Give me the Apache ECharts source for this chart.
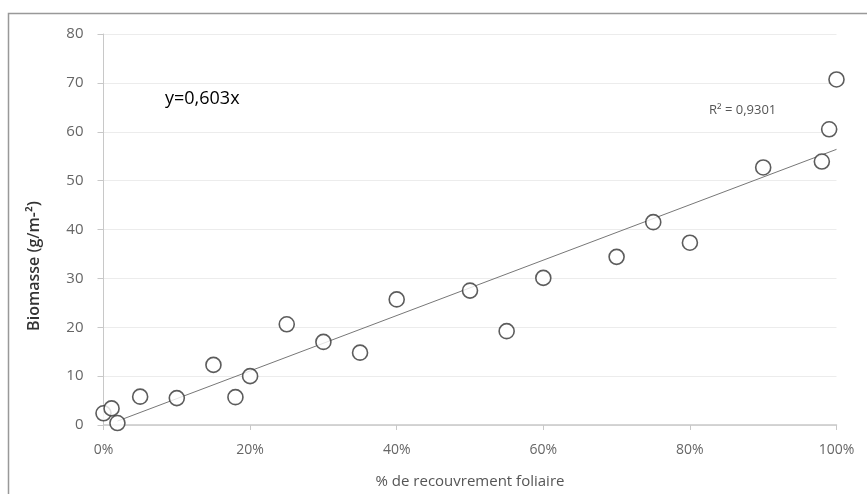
<!DOCTYPE html>
<html><head><meta charset="utf-8">
<script src="https://cdn.jsdelivr.net/npm/echarts@6/dist/echarts.min.js"></script>
<style>html,body{margin:0;padding:0;background:#fff}#c{width:867px;height:494px}</style>
</head><body><div id="c"></div>
<script>
const coverage = [0, 1.1, 1.9, 5, 10, 15, 18, 20, 25, 30, 35, 40, 50, 55, 60, 70, 75, 80, 90, 98, 99, 100];
const biomass  = [2.4, 3.4, 0.4, 5.8, 5.5, 12.3, 5.7, 10.0, 20.6, 17.0, 14.8, 25.7, 27.5, 19.2, 30.1, 34.4, 41.5, 37.3, 52.7, 53.9, 60.5, 70.7];
const trendX = [1.9, 100];
const trendY = [0.8, 56.4];
const xTicks = [0, 20, 40, 60, 80, 100];
const yTicks = [0, 10, 20, 30, 40, 50, 60, 70, 80];

const font = 'Open Sans';
const chart = echarts.init(document.getElementById('c'));
chart.setOption({
  animation: false,
  grid: {left: 103.5, right: 30.5, top: 34, bottom: 67},
  xAxis: {
    type: 'value', min: 0, max: 100, interval: 20,
    axisLine: {show: true, lineStyle: {color: '#c8c8c8', width: 1.5}},
    axisTick: {show: true, length: 5, lineStyle: {color: '#c8c8c8'}},
    splitLine: {show: false},
    axisLabel: {color: '#666', fontFamily: font, fontSize: 14, margin: 18, formatter: v => v + '%'},
    name: '% de recouvrement foliaire', nameLocation: 'middle', nameGap: 49,
    nameTextStyle: {color: '#555', fontFamily: font, fontSize: 15}
  },
  yAxis: {
    type: 'value', min: 0, max: 80, interval: 10,
    axisLine: {show: true, lineStyle: {color: '#c8c8c8', width: 1}},
    axisTick: {show: true, length: 6, lineStyle: {color: '#c8c8c8'}},
    splitLine: {show: true, lineStyle: {color: '#ececec', width: 1}},
    axisLabel: {color: '#666', fontFamily: font, fontSize: 15, margin: 20}
  },
  graphic: [
    {type: 'rect', shape: {x: 8.5, y: 13.5, width: 900, height: 500}, style: {fill: 'none', stroke: '#999', lineWidth: 1.5}, z: -1},
    {type: 'text', left: 165, top: 90, style: {text: 'y=0,603x', fill: '#000', font: '18px "Open Sans"'}},
    {type: 'text', left: 709, top: 104, style: {text: 'R² = 0,9301', fill: '#555', font: '13px "Open Sans"'}},
    {type: 'text', x: 34, y: 266, rotation: Math.PI / 2, style: {text: 'Biomasse (g/m-²)', fill: '#333', font: '600 16px "Open Sans"', align: 'center', verticalAlign: 'middle'}}
  ],
  series: [
    {
      type: 'line', data: trendX.map((x, i) => [x, trendY[i]]),
      symbol: 'none', lineStyle: {color: '#777', width: 1}, z: 2
    },
    {
      type: 'scatter', data: coverage.map((x, i) => [x, biomass[i]]),
      symbol: 'circle', symbolSize: 15,
      itemStyle: {color: '#fff', borderColor: '#333', borderWidth: 1.6}, z: 3
    }
  ]
});
</script></body></html>
